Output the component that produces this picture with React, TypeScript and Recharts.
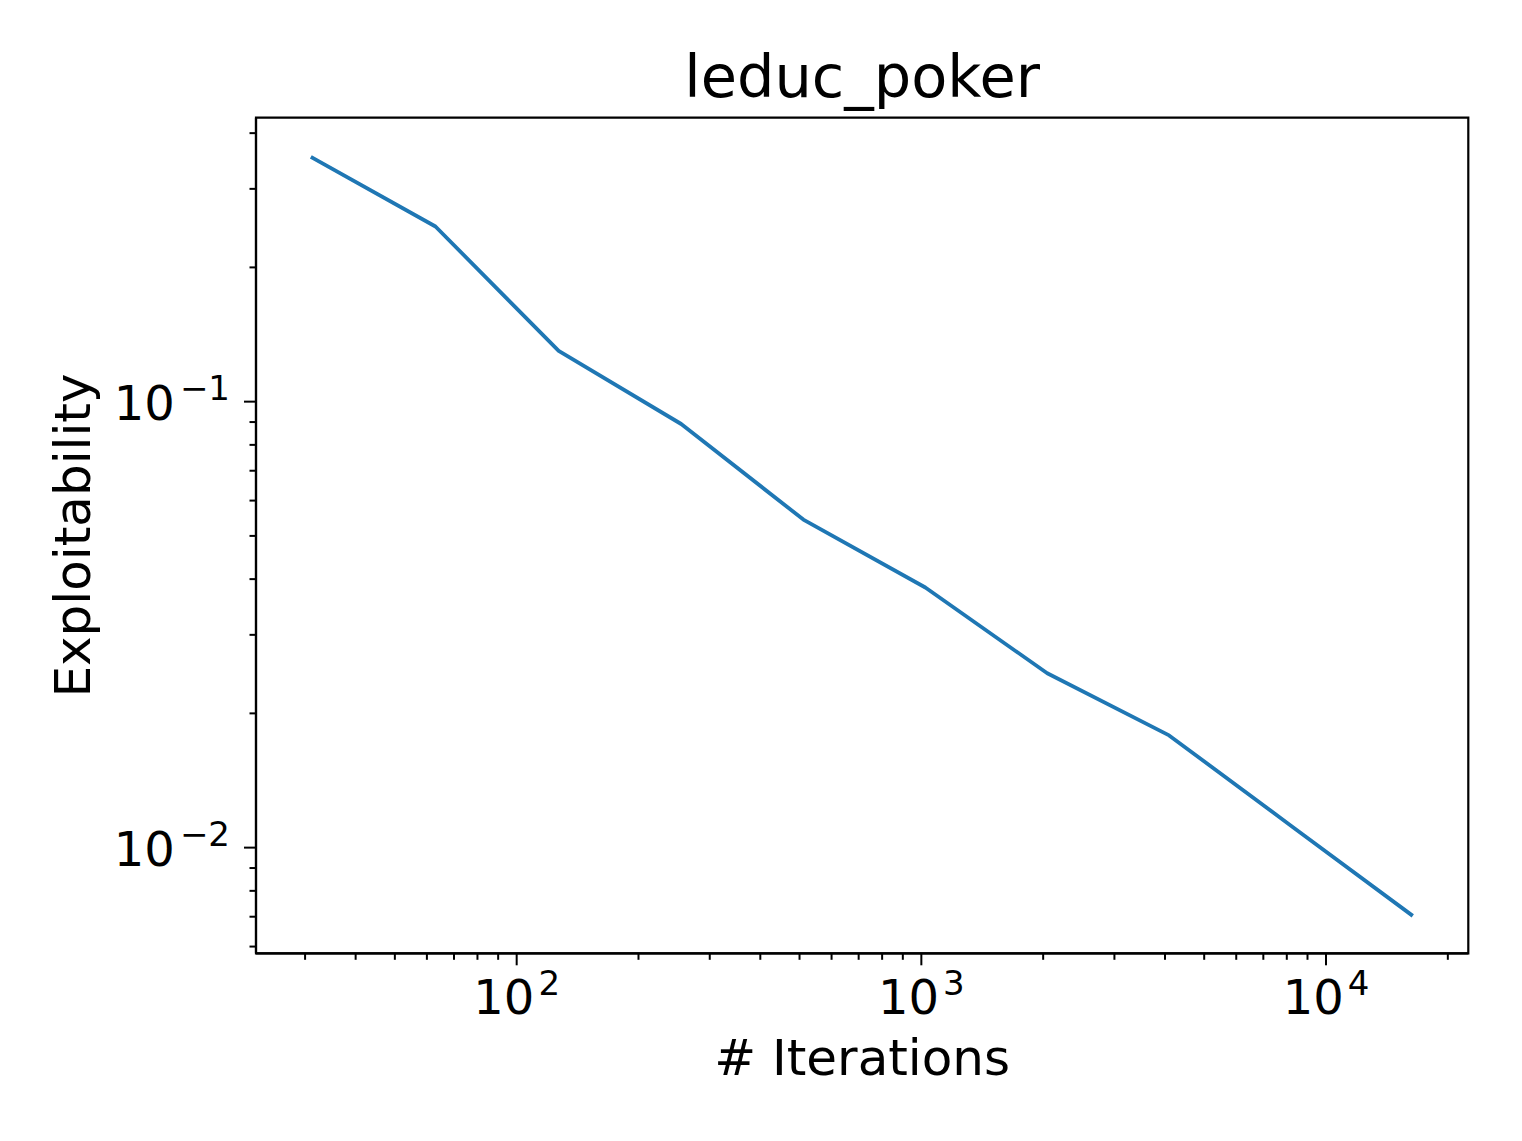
import React from 'react';
import { LineChart, Line, XAxis, YAxis, Label, ReferenceArea } from 'recharts';

// ---- data ----
const iterations = [31, 63, 127, 255, 511, 1023, 2047, 4095, 8191, 16383];
const exploitability = [0.354, 0.247, 0.13, 0.0891, 0.0544, 0.0383, 0.0246, 0.01785, 0.0112, 0.00703];

const xMajorTicks = [100, 1000, 10000];
const xMinorTicks = [30, 40, 50, 60, 70, 80, 90, 200, 300, 400, 500, 600, 700, 800, 900, 2000, 3000, 4000, 5000, 6000, 7000, 8000, 9000, 20000];
const yMajorTicks = [0.01, 0.1];
const yMinorTicks = [0.006, 0.007, 0.008, 0.009, 0.02, 0.03, 0.04, 0.05, 0.06, 0.07, 0.08, 0.09, 0.2, 0.3, 0.4];

const xDomain = [22.69, 22470];
const yDomain = [0.005795, 0.4332];

const title = 'leduc_poker';
const xLabel = '# Iterations';
const yLabel = 'Exploitability';

const data = iterations.map((x, i) => ({ x, y: exploitability[i] }));

// ---- layout ----
const W = 1522;
const H = 1141;
const PLOT_LEFT = 256;
const PLOT_TOP = 117.7;
const PLOT_RIGHT = 1468.3;
const PLOT_BOTTOM = 953.3;
const Y_AXIS_W = 180;
const X_AXIS_H = 120;
const FONT = '"DejaVu Sans", Verdana, sans-serif';
const SPINE = 2.2;

const isMajor = (v: number) => Math.abs(Math.log10(v) - Math.round(Math.log10(v))) < 1e-9;
const expText = (v: number) => {
  const e = Math.round(Math.log10(v));
  return e < 0 ? '\u2212' + String(-e) : String(e);
};

const XTick = (props: any) => {
  const { x, y, payload } = props;
  const v = payload.value;
  const major = isMajor(v);
  return (
    <g>
      <line x1={x} x2={x} y1={y} y2={y + (major ? 12 : 6.5)} stroke="#000" strokeWidth={2} />
      {major && (
        <text x={x} y={y + 61} textAnchor="middle" fontFamily={FONT} fontSize={48} fill="#000">
          10
          <tspan dx={4} dy={-19} fontSize={34}>
            {expText(v)}
          </tspan>
        </text>
      )}
    </g>
  );
};

const YTick = (props: any) => {
  const { x, y, payload } = props;
  const v = payload.value;
  const major = isMajor(v);
  return (
    <g>
      <line x1={x - (major ? 12 : 6.5)} x2={x} y1={y} y2={y} stroke="#000" strokeWidth={2} />
      {major && (
        <text x={x - 26} y={y + 18} textAnchor="end" fontFamily={FONT} fontSize={48} fill="#000">
          10
          <tspan dx={5} dy={-20} fontSize={34}>
            {expText(v)}
          </tspan>
        </text>
      )}
    </g>
  );
};

const centerX = (PLOT_LEFT + PLOT_RIGHT) / 2;
const centerY = (PLOT_TOP + PLOT_BOTTOM) / 2;

export default function App() {
  return (
    <div style={{ position: 'absolute', left: 0, top: 0, width: W, height: H, background: '#fff' }}>
      <LineChart
        width={W}
        height={H}
        data={data}
        margin={{
          top: PLOT_TOP,
          right: W - PLOT_RIGHT,
          bottom: H - PLOT_BOTTOM - X_AXIS_H,
          left: PLOT_LEFT - Y_AXIS_W,
        }}
      >
        <XAxis
          dataKey="x"
          type="number"
          scale="log"
          domain={xDomain}
          allowDataOverflow
          ticks={[...xMajorTicks, ...xMinorTicks]}
          interval={0}
          height={X_AXIS_H}
          tickSize={0}
          tickMargin={0}
          tickLine={false}
          axisLine={{ stroke: '#000', strokeWidth: SPINE }}
          tick={(p: any) => <XTick {...p} />}
        >
          <Label
            content={() => (
              <g>
                <text x={centerX} y={1075} textAnchor="middle" fontFamily={FONT} fontSize={50} fill="#000">
                  {xLabel}
                </text>
                <text x={centerX} y={97} textAnchor="middle" fontFamily={FONT} fontSize={59} fill="#000">
                  {title}
                </text>
              </g>
            )}
          />
        </XAxis>
        <YAxis
          dataKey="y"
          type="number"
          scale="log"
          domain={yDomain}
          allowDataOverflow
          ticks={[...yMajorTicks, ...yMinorTicks]}
          interval={0}
          width={Y_AXIS_W}
          tickSize={0}
          tickMargin={0}
          tickLine={false}
          axisLine={{ stroke: '#000', strokeWidth: SPINE }}
          tick={(p: any) => <YTick {...p} />}
        >
          <Label
            content={() => (
              <text
                x={90}
                y={centerY}
                transform={`rotate(-90 90 ${centerY})`}
                textAnchor="middle"
                fontFamily={FONT}
                fontSize={50}
                fill="#000"
              >
                {yLabel}
              </text>
            )}
          />
        </YAxis>
        <ReferenceArea
          x1={xDomain[0]}
          x2={xDomain[1]}
          y1={yDomain[0]}
          y2={yDomain[1]}
          fill="none"
          fillOpacity={0}
          stroke="#000"
          strokeWidth={SPINE}
          ifOverflow="visible"
        />
        <Line
          type="linear"
          dataKey="y"
          stroke="#1f77b4"
          strokeWidth={3.8}
          dot={false}
          activeDot={false}
          isAnimationActive={false}
          strokeLinejoin="round"
        />
      </LineChart>
    </div>
  );
}
